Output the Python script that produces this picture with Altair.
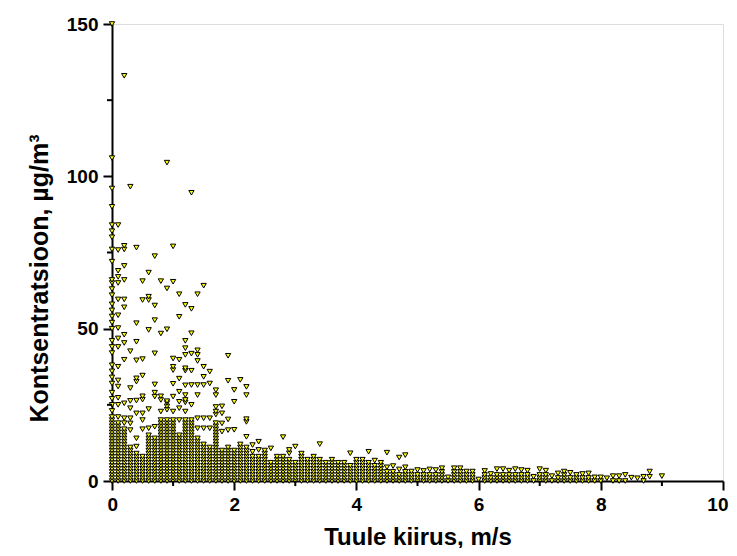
import altair as alt
import pandas as pd

# Wind speed columns (m/s), measured in 0.1 m/s steps
wind_speed = [
    0.0, 0.1, 0.2, 0.3, 0.4, 0.5, 0.6, 0.7, 0.8, 0.9,
    1.0, 1.1, 1.2, 1.3, 1.4, 1.5, 1.6, 1.7, 1.8, 1.9,
    2.0, 2.1, 2.2, 2.3, 2.4, 2.5, 2.6, 2.7, 2.8, 2.9,
    3.0, 3.1, 3.2, 3.3, 3.4, 3.5, 3.6, 3.7, 3.8, 3.9,
    4.0, 4.1, 4.2, 4.3, 4.4, 4.5, 4.6, 4.7, 4.8, 4.9,
    5.0, 5.1, 5.2, 5.3, 5.4, 5.5, 5.6, 5.7, 5.8, 5.9,
    6.0, 6.1, 6.2, 6.3, 6.4, 6.5, 6.6, 6.7, 6.8, 6.9,
    7.0, 7.1, 7.2, 7.3, 7.4, 7.5, 7.6, 7.7, 7.8, 7.9,
    8.0, 8.1, 8.2, 8.3, 8.4, 8.5, 8.6, 8.7, 8.8, 9.0,
]

# Concentrations (ug/m3) observed at each wind speed column
concentration = [
    [0, 1, 2, 3, 4, 5, 6, 7, 8, 9, 10, 11, 12, 13, 14, 15, 16, 17, 18, 19, 20, 21, 23, 25, 27, 29, 32, 34, 36, 38, 42, 44, 46, 50, 52, 54, 56, 58, 61, 63, 65, 66, 72, 76, 80, 82, 84, 90, 96, 106, 150],
    [0, 1, 2, 3, 4, 5, 6, 7, 8, 9, 10, 11, 12, 13, 14, 15, 16, 17, 18, 19, 21, 25, 27.3, 31, 33, 37.5, 44, 46.8, 50.2, 54.4, 59.6, 65, 67, 69, 75.8, 84],
    [0, 1, 2, 3, 4, 5, 6, 7, 8, 9, 10, 11, 12, 13, 14, 15, 16, 17, 19, 20.6, 25.5, 39.8, 45.3, 48, 57, 59.6, 66, 70.6, 76, 77.2, 133],
    [0, 1, 2, 3, 4, 5, 6, 7, 8, 9, 10, 11, 16.7, 18.9, 20.6, 23.9, 26.3, 30.5, 42.6, 96.6],
    [0, 1, 2, 3, 4, 5, 6, 7, 8, 9, 11.3, 14, 22.2, 26.4, 32.6, 33.7, 39.6, 45.7, 51.8, 76.6],
    [0, 1, 2, 3, 4, 5, 6, 7, 8, 17, 20, 22.2, 26.7, 27.8, 34.6, 40, 59.4, 65.6],
    [0, 1, 2, 3, 4, 5, 6, 7, 8, 9, 10, 11, 12, 13, 14, 15, 17.3, 23.6, 49.6, 59.4, 60.5, 68.4],
    [0, 1, 2, 3, 4, 5, 6, 7, 8, 9, 10, 11, 12, 13, 14, 17.8, 27.7, 29, 31.7, 41.9, 52.8, 57.6, 73.8],
    [0, 1, 2, 3, 4, 5, 6, 7, 8, 9, 10, 11, 12, 13, 14, 15, 16, 17, 18, 19, 20, 22.8, 26.6, 27.8, 48.4, 65.6],
    [0, 1, 2, 3, 4, 5, 6, 7, 8, 9, 10, 11, 12, 13, 14, 15, 16, 17, 18, 19, 20, 23.4, 24.5, 25.6, 26.2, 49.8, 63.2, 104.5],
    [0, 1, 2, 3, 4, 5, 6, 7, 8, 9, 10, 11, 12, 13, 14, 15, 16, 17, 18, 19, 20, 22.8, 27.7, 31.9, 36.4, 37.5, 40.2, 65.4, 77],
    [0, 1, 2, 3, 4, 5, 6, 7, 8, 9, 10, 11, 12, 13, 14, 15, 20, 23.9, 26, 29.3, 33.6, 39.8, 53.9, 61.3],
    [0, 1, 2, 3, 4, 5, 6, 7, 8, 9, 10, 11, 12, 13, 14, 15, 16, 17, 18, 19, 20, 22.8, 25.8, 26.6, 28.2, 31.4, 36.2, 37, 41.4, 43.6, 46, 57.8],
    [0, 1, 2, 3, 4, 5, 6, 7, 8, 9, 10, 11, 12, 13, 14, 15, 16, 17, 18, 19, 20, 25, 31.5, 36.2, 41.8, 48.5, 56.5, 94.6],
    [0, 1, 2, 3, 4, 5, 6, 7, 8, 9, 10, 11, 12, 13, 14, 17.3, 20.6, 28.2, 31.5, 39.4, 41.4, 42.9, 61.3],
    [0, 1, 2, 3, 4, 5, 6, 7, 8, 9, 10, 11, 12, 17.3, 20.6, 31.5, 34.2, 37.5, 64.1],
    [0, 1, 2, 3, 4, 5, 6, 7, 8, 9, 10, 11, 17.3, 20.6, 32, 35.9],
    [0, 1, 2, 3, 4, 5, 6, 7, 8, 9, 10, 11, 12, 13, 14, 15, 16, 17, 18, 19, 21.8, 22.8, 24.3, 28.2, 29.8],
    [0, 1, 2, 3, 4, 5, 6, 7, 8, 9, 10, 16.2, 18.9, 22.2, 24.5],
    [0, 1, 2, 3, 4, 5, 6, 7, 8, 9, 10, 11, 16.7, 20.2, 32.9, 41.1],
    [0, 1, 2, 3, 4, 5, 6, 7, 8, 9, 10, 16.8, 26, 29.9],
    [0, 1, 2, 3, 4, 5, 6, 7, 8, 9, 10, 11, 12, 33.2],
    [0, 1, 2, 3, 4, 5, 6, 7, 8, 9, 10, 11, 14.5, 19.4, 20.3, 28.2, 30.9],
    [0, 1, 2, 3, 4, 5, 6, 7, 8, 9.6, 11.8],
    [0, 1, 2, 3, 4, 5, 6, 7, 8, 10.2, 12.9],
    [0, 1, 2, 3, 4, 5, 6, 7, 8, 9, 10],
    [0, 1, 2, 3, 4, 5, 6, 10.7],
    [0, 1, 2, 3, 4, 5, 6, 7, 8],
    [0, 1, 2, 3, 4, 5, 6, 7, 8, 14.4],
    [0, 1, 2, 3, 4, 5, 6, 7, 9.1, 10.2],
    [0, 1, 2, 3, 4, 5, 6, 11.3],
    [0, 1, 2, 3, 4, 5, 6, 7, 8, 9],
    [0, 1, 2, 3, 4, 5, 6, 7],
    [0, 1, 2, 3, 4, 5, 6, 7, 8],
    [0, 1, 2, 3, 4, 5, 6, 7, 12.1],
    [0, 1, 2, 3, 4, 5, 6],
    [0, 1, 2, 3, 4, 5, 6, 7],
    [0, 1, 2, 3, 4, 5, 6],
    [0, 1, 2, 3, 4, 5, 6],
    [0, 1, 2, 3, 4, 5, 9.1],
    [0, 1, 2, 3, 4, 5, 6, 7],
    [0, 1, 2, 3, 4, 5, 6, 7],
    [0, 1, 2, 3, 4, 5, 6, 9.6],
    [0, 1, 2, 3, 4, 5, 6.7],
    [0, 1, 2, 3, 4, 5, 6],
    [0, 1, 2, 3, 4.5, 9.3],
    [0, 1, 2, 3, 4.9],
    [0, 1, 2, 3.8, 7.7],
    [0, 1, 2, 3, 4.5, 8.5],
    [0, 1, 2, 3.1],
    [0, 1, 2, 3.6],
    [0, 1, 2, 3.3],
    [0, 1, 2, 3.8],
    [0, 1, 2, 3.6],
    [0, 1, 2, 3, 4.2],
    [0, 1.2],
    [0, 1, 2, 3, 4.2],
    [0, 1, 2, 3, 4.2],
    [0, 1, 2, 3.1],
    [0, 1, 2, 3.1],
    [0.5],
    [0, 1, 2, 3.3],
    [0, 1, 2.3],
    [0, 1, 2, 3.9],
    [0, 1, 2, 3.9],
    [0, 1, 2, 3.4],
    [0, 1, 2, 3.9],
    [0, 1, 2, 3.6],
    [0, 1, 2, 3.4],
    [0, 1.4],
    [0, 1, 2, 3.9],
    [0, 1, 2, 3.4],
    [0, 1.6],
    [0, 1, 2.5],
    [0, 1, 2, 3.1],
    [0, 1, 2.7],
    [0, 1, 2.0],
    [0, 1, 2.3],
    [0, 1, 2.5],
    [0, 1.2],
    [0, 1.2],
    [0.9],
    [0, 1.6],
    [0, 1.6],
    [0, 2.0],
    [1.1],
    [0.9],
    [0, 1.4],
    [1.4, 3.1],
    [1.6],
]

x_major = [0, 2, 4, 6, 8, 10]
x_minor = [1, 3, 5, 7, 9]
y_major = [0, 50, 100, 150]
y_minor = [25, 75, 125]

rows = []
for ws, ys in zip(wind_speed, concentration):
    for c in ys:
        rows.append({"wind": ws, "conc": c})
df = pd.DataFrame(rows)

FONT = "Liberation Sans"
W, H = 611, 457
x_scale = alt.Scale(domain=[0, 10], nice=False, zero=False)
y_scale = alt.Scale(domain=[0, 150], nice=False, zero=False)

common = dict(
    format="d",
    tickWidth=2,
    tickColor="black",
    domainColor="black",
    domainWidth=2,
    grid=False,
    labelFont=FONT,
    labelFontWeight="bold",
    labelFontSize=19,
    labelColor="black",
    titleFont=FONT,
    titleFontWeight="bold",
    titleColor="black",
)

x_axis = alt.Axis(
    values=x_major,
    tickSize=9,
    labelPadding=5,
    labelFlush=True,
    labelFlushOffset=5,
    title="Tuule kiirus, m/s",
    titleFontSize=24,
    titleBaseline="alphabetic",
    titleY=63,
    **common,
)

y_axis = alt.Axis(
    values=y_major,
    tickSize=9,
    labelPadding=5,
    labelFlush=False,
    title="Kontsentratsioon, µg/m³",
    titleFontSize=25,
    titleBaseline="alphabetic",
    titleAngle=270,
    titleX=-65,
    titleY=254,
    **common,
)

points = alt.Chart(df).mark_point(
    shape="triangle-down",
    filled=True,
    fill="#ffff00",
    stroke="black",
    strokeWidth=1,
    size=28,
    opacity=1,
).encode(
    x=alt.X("wind:Q", scale=x_scale, axis=x_axis),
    y=alt.Y("conc:Q", scale=y_scale, axis=y_axis),
)

# minor tick marks (odd x values, 25/75/125 on y) placed through the shared scales
x_minor_df = pd.DataFrame({"wind": x_minor})
y_minor_df = pd.DataFrame({"conc": y_minor})

x_minor_ticks = alt.Chart(x_minor_df).mark_rule(color="black", strokeWidth=2).encode(
    x=alt.X("wind:Q", scale=x_scale),
    y=alt.value(H),
    y2=alt.value(H + 5),
)
y_minor_ticks = alt.Chart(y_minor_df).mark_rule(color="black", strokeWidth=2).encode(
    y=alt.Y("conc:Q", scale=y_scale),
    x=alt.value(-5),
    x2=alt.value(0),
)

chart = alt.layer(points, x_minor_ticks, y_minor_ticks).properties(
    width=W,
    height=H,
    autosize=alt.AutoSizeParams(type="none"),
    padding={"left": 104, "top": 16, "right": 6, "bottom": 67},
).configure_view(
    strokeWidth=0,
    stroke="transparent",
).configure(
    background="white"
)

chart.save("out.html", embed_options={"renderer": "svg", "actions": False})
